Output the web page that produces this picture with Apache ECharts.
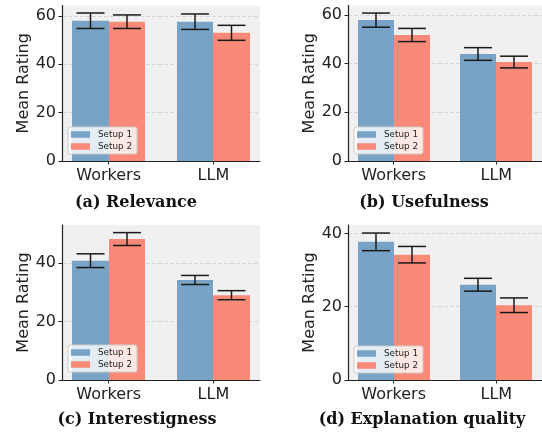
<!DOCTYPE html>
<html><head><meta charset="utf-8">
<script src="https://cdn.jsdelivr.net/npm/echarts@6/dist/echarts.min.js"></script>
<style>html,body{margin:0;padding:0;background:#fff}#c{width:542px;height:434px}</style>
</head><body><div id="c"></div>
<script>
// ---- data ----
const categories = ['Workers', 'LLM'];
const seriesNames = ['Setup 1', 'Setup 2'];
const panelTitles = ['(a) Relevance', '(b) Usefulness', '(c) Interestigness', '(d) Explanation quality'];

const relevanceSetup1 = [58.0, 57.6];
const relevanceSetup2 = [57.6, 53.0];
const relevanceErr1 = [3.2, 3.2];
const relevanceErr2 = [2.8, 3.1];

const usefulnessSetup1 = [57.8, 43.9];
const usefulnessSetup2 = [51.7, 40.6];
const usefulnessErr1 = [2.9, 2.6];
const usefulnessErr2 = [2.7, 2.4];

const interestSetup1 = [40.8, 34.2];
const interestSetup2 = [48.2, 29.0];
const interestErr1 = [2.35, 1.55];
const interestErr2 = [2.2, 1.55];

const explanationSetup1 = [37.7, 26.0];
const explanationSetup2 = [34.2, 20.4];
const explanationErr1 = [2.4, 1.75];
const explanationErr2 = [2.25, 2.0];

const yMax = [64.3, 63.8, 53.0, 42.3];
const yTicksAB = [0, 20, 40, 60];
const yTicksCD = [0, 20, 40];

// ---- layout ----
const panels = [
  {m: [relevanceSetup1, relevanceSetup2], e: [relevanceErr1, relevanceErr2], ticks: yTicksAB,
   grid: {left: 62, top: 5.5, width: 198, height: 155.5}, legend: {left: 68, top: 127}, cap: [136, 203]},
  {m: [usefulnessSetup1, usefulnessSetup2], e: [usefulnessErr1, usefulnessErr2], ticks: yTicksAB,
   grid: {left: 348, top: 5.5, width: 198, height: 155.5}, legend: {left: 354, top: 127}, cap: [424, 203]},
  {m: [interestSetup1, interestSetup2], e: [interestErr1, interestErr2], ticks: yTicksCD,
   grid: {left: 62, top: 225, width: 198, height: 155}, legend: {left: 68, top: 345}, cap: [137, 420]},
  {m: [explanationSetup1, explanationSetup2], e: [explanationErr1, explanationErr2], ticks: yTicksCD,
   grid: {left: 348, top: 225, width: 198, height: 155}, legend: {left: 354, top: 346}, cap: [422, 420]}
];
const colors = ['#78a2c6', '#f98a78'];
const BAR_W = 0.35;
const FONT = 'DejaVu Sans';
const INK = '#222';

function renderBar(side) {
  return function (params, api) {
    const x = api.value(0), y = api.value(1), e = api.value(2);
    const x0 = side === 0 ? x - BAR_W : x;
    const p0 = api.coord([x0, y]);
    const p1 = api.coord([x0 + BAR_W, 0]);
    const left = Math.round(p0[0]), right = Math.round(p1[0]);
    const cx = (left + right) / 2;
    const pt = api.coord([x0 + BAR_W / 2, y + e]);
    const pb = api.coord([x0 + BAR_W / 2, y - e]);
    const ls = {stroke: '#1a1a1a', lineWidth: 1.5};
    return {type: 'group', children: [
      {type: 'rect', shape: {x: left, y: p0[1], width: right - left, height: p1[1] - p0[1]}, style: {fill: api.visual('color')}},
      {type: 'line', shape: {x1: cx, y1: pt[1], x2: cx, y2: pb[1]}, style: ls},
      {type: 'line', shape: {x1: cx - 14, y1: pt[1], x2: cx + 14, y2: pt[1]}, style: ls},
      {type: 'line', shape: {x1: cx - 14, y1: pb[1], x2: cx + 14, y2: pb[1]}, style: ls}
    ]};
  };
}

const grids = [], xAxes = [], yAxes = [], series = [], legends = [], graphics = [];
const catIdx = categories.map((_, i) => i);
panels.forEach((p, i) => {
  grids.push(Object.assign({show: true, backgroundColor: '#f0f0f0', borderWidth: 0}, p.grid));
  xAxes.push({
    gridIndex: i, type: 'value', min: -0.445, max: 1.445,
    axisLine: {show: true, onZero: false, lineStyle: {color: INK, width: 1.2}},
    axisTick: {show: true, customValues: catIdx, length: 3.5, lineStyle: {color: INK, width: 1}},
    axisLabel: {customValues: catIdx, formatter: v => categories[Math.round(v)], fontSize: 16, color: INK, fontFamily: FONT, margin: 7},
    splitLine: {show: false}
  });
  yAxes.push({
    gridIndex: i, type: 'value', min: 0, max: yMax[i], interval: 20,
    name: 'Mean Rating', nameLocation: 'middle', nameGap: 29,
    nameTextStyle: {fontSize: 16, color: INK, fontFamily: FONT},
    axisLine: {show: true, onZero: false, lineStyle: {color: INK, width: 1.2}},
    axisTick: {show: true, customValues: p.ticks, length: 3.5, lineStyle: {color: INK, width: 1}},
    axisLabel: {customValues: p.ticks, fontSize: 16, color: INK, fontFamily: FONT, margin: 6},
    splitLine: {show: true, lineStyle: {type: [4, 2], color: '#d6d6d6', width: 1}}
  });
  [0, 1].forEach(s => {
    series.push({
      type: 'custom', name: seriesNames[s], xAxisIndex: i, yAxisIndex: i,
      itemStyle: {color: colors[s]},
      renderItem: renderBar(s),
      encode: {x: 0, y: 1},
      data: catIdx.map(c => [c, p.m[s][c], p.e[s][c]]),
      silent: true, animation: false
    });
  });
  legends.push({
    orient: 'vertical', left: p.legend.left, top: p.legend.top,
    itemWidth: 19, itemHeight: 6.5, itemGap: 3, padding: [3, 5, 3, 3],
    backgroundColor: 'rgba(255,255,255,0.8)', borderColor: '#cccccc', borderWidth: 1, borderRadius: 2,
    icon: 'rect', selectedMode: false, data: seriesNames,
    textStyle: {fontSize: 8.8, fontFamily: FONT, color: INK, padding: [0, 0, 0, 3]}
  });
  graphics.push({
    type: 'text', x: p.cap[0], y: p.cap[1],
    style: {text: panelTitles[i], font: 'bold 16px "DejaVu Serif"', fill: '#111', textAlign: 'center', textVerticalAlign: 'middle'}
  });
});

const chart = echarts.init(document.getElementById('c'), null, {renderer: 'canvas'});
chart.setOption({
  animation: false,
  grid: grids, xAxis: xAxes, yAxis: yAxes, series: series, legend: legends, graphic: graphics
});
</script>
</body></html>
